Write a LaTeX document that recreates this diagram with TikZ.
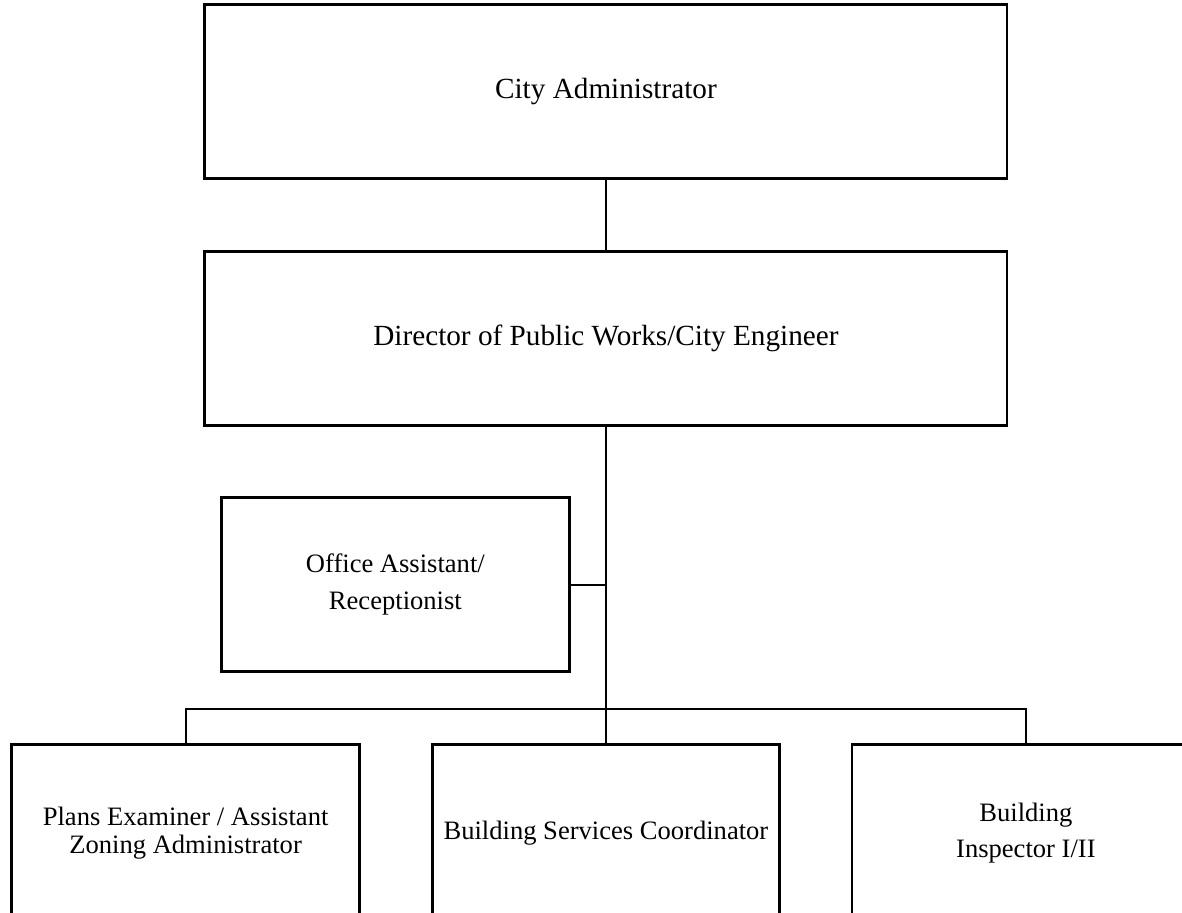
\documentclass[tikz,border=0pt]{standalone}
\usepackage{fontspec}
\setmainfont{Liberation Serif}
\usepackage{tikz}
\usetikzlibrary{positioning,calc}

\begin{document}
\begin{tikzpicture}[
    post/.style={rectangle, draw, line width=2.2pt, inner sep=0pt, outer sep=0pt, align=center},
    bigpost/.style={post, minimum width=21.22cm, minimum height=4.6cm, font=\fontsize{22}{27}\selectfont},
    staffpost/.style={post, minimum width=9.2cm, minimum height=4.6cm, font=\fontsize{20}{28}\selectfont},
    link/.style={line width=1.5pt}
]
\useasboundingbox (0,0) rectangle (31.27,24.15);

% Top of the chart
\node[bigpost] (admin) at (16.03, 21.72) {City Administrator};
\node[bigpost] (director) at (16.03, 15.19) {Director of Public Works/City Engineer};

% Staff
\node[staffpost] (office) at (10.46, 8.68) {Office Assistant/\\Receptionist};
\node[staffpost, minimum height=4.66cm, font=\fontsize{20}{21}\selectfont] (plans) at (4.91, 2.12) {Plans Examiner / Assistant\\Zoning Administrator};
\node[staffpost, minimum height=4.66cm] (coord) at (16.03, 2.12) {Building Services Coordinator};
\node[staffpost, minimum height=4.66cm, font=\fontsize{20}{27}\selectfont] (inspector) at (27.14, 2.12) {Building\\Inspector I/II};

% Connectors
\coordinate (bus) at (16.03, 5.40);
\draw[link] (admin.south) -- (director.north);
\draw[link] (director.south) -- (coord.north);
\draw[link] (office.east) -- (office.east -| director.south);
\draw[link] (plans.north) -- (plans.north |- bus) -- (inspector.north |- bus) -- (inspector.north);

\end{tikzpicture}
\end{document}
